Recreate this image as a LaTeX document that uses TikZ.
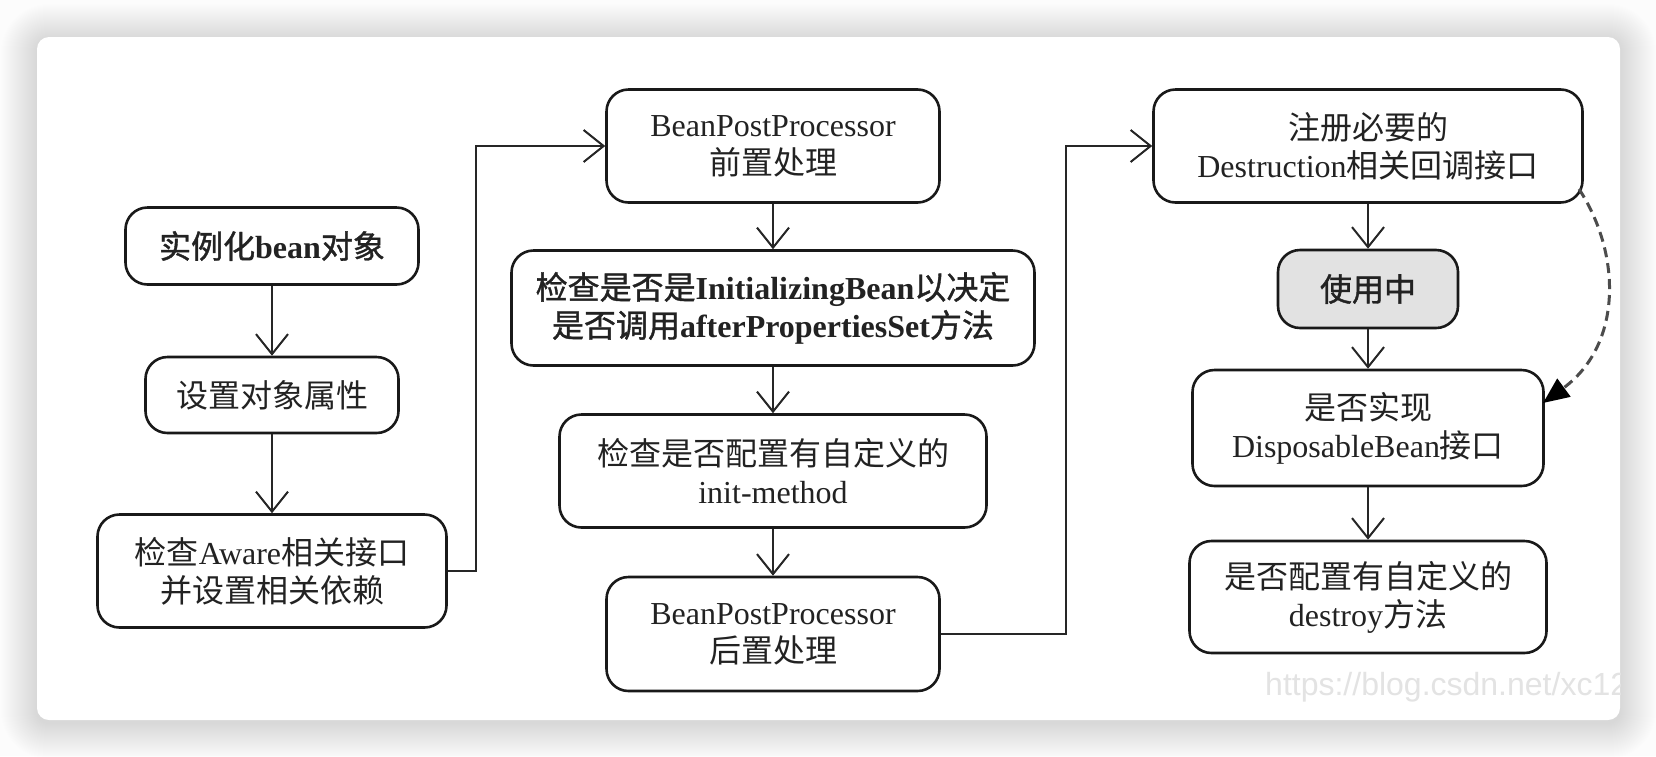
\documentclass[tikz,border=0pt]{standalone}
\usepackage{fontspec}
\setmainfont{Liberation Serif}
\setsansfont{Liberation Sans}
\newfontfamily\cjkf{Noto Sans CJK SC}[BoldFont=*,BoldFeatures={FakeBold=1.2}]
\newcommand\zhs[1]{{\cjkf #1}}
\usetikzlibrary{arrows.meta}
\definecolor{txt}{HTML}{222222}
\definecolor{bgc}{HTML}{FCFCFC}
\definecolor{usegray}{HTML}{E2E2E2}
\begin{document}
\begin{tikzpicture}[x=1pt,y=-1pt,
  box/.style={draw=black!90, line width=2.6pt, rounded corners=22pt, fill=white,
    align=center, text=txt, inner sep=0pt, font=\fontsize{32}{38}\selectfont},
  boldbox/.style={box, font=\fontsize{32}{38}\selectfont\bfseries},
  arr/.style={draw=black!85, line width=2pt,
    -{Straight Barb[length=20pt,width=32pt,line width=2pt]}},
  dasharr/.style={draw=black!70, line width=3pt, dash pattern=on 10pt off 6pt,
    -{Triangle[length=26pt,width=22pt,color=black]}},
  wmark/.style={text=black!11, font=\sffamily\fontsize{32}{32}\selectfont, anchor=base west, inner sep=0pt}
]
\useasboundingbox (0,0) rectangle (1656,756);
\fill[bgc] (0,0) rectangle (1656,756);
\foreach \i in {1,...,36}{
  \pgfmathsetmacro\rr{12+\i}
  \fill[black,opacity=0.005,rounded corners=\rr pt] (37-\i,37-\i+3) rectangle (1620+\i,720+\i+3);
}
\fill[white,rounded corners=12pt] (37,37) rectangle (1620,720);
\begin{scope}
  \clip[rounded corners=12pt] (37,37) rectangle (1620,720);
  \node[wmark] (wm) at (1265,695) {https://blog.csdn.net/xc12};
\end{scope}

% left column
\node[boldbox, minimum width=293pt, minimum height=77pt] (A) at (272,246) {\zhs{实例化}bean\zhs{对象}};
\node[box, minimum width=253pt, minimum height=76pt] (B) at (272,395) {\zhs{设置对象属性}};
\node[box, minimum width=349pt, minimum height=113pt] (C) at (272,571) {\zhs{检查}Aware\zhs{相关接口}\\\zhs{并设置相关依赖}};

% middle column
\node[box, minimum width=333pt, minimum height=113pt] (D) at (773,146) {BeanPostProcessor\\\zhs{前置处理}};
\node[boldbox, minimum width=523pt, minimum height=115pt] (E) at (773,308) {\zhs{检查是否是}InitializingBean\zhs{以决定}\\\zhs{是否调用}afterPropertiesSet\zhs{方法}};
\node[box, minimum width=427pt, minimum height=113pt] (F) at (773,471) {\zhs{检查是否配置有自定义的}\\init-method};
\node[box, minimum width=333pt, minimum height=114pt] (G) at (773,634) {BeanPostProcessor\\\zhs{后置处理}};

% right column
\node[box, minimum width=429pt, minimum height=113pt] (H) at (1368,146) {\zhs{注册必要的}\\Destruction\zhs{相关回调接口}};
\node[boldbox, fill=usegray, minimum width=180pt, minimum height=78pt] (I) at (1368,289) {\zhs{使用中}};
\node[box, minimum width=351pt, minimum height=116pt] (J) at (1368,428) {\zhs{是否实现}\\DisposableBean\zhs{接口}};
\node[box, minimum width=357pt, minimum height=112pt] (K) at (1368,597) {\zhs{是否配置有自定义的}\\destroy\zhs{方法}};

% connectors
\draw[arr] (A) -- (B);
\draw[arr] (B) -- (C);
\draw[arr] (C.east) -- ++(28,0) |- (D.west);
\draw[arr] (D) -- (E);
\draw[arr] (E) -- (F);
\draw[arr] (F) -- (G);
\draw[arr] (G.east) -- ++(125,0) |- (H.west);
\draw[arr] (H) -- (I);
\draw[arr] (I) -- (J);
\draw[arr] (J) -- (K);
\coordinate (hs) at (1579,189);
\coordinate (je) at (1543,403);
\draw[dasharr] (hs) .. controls (1622,255) and (1622,345) .. (je);
\end{tikzpicture}
\end{document}
